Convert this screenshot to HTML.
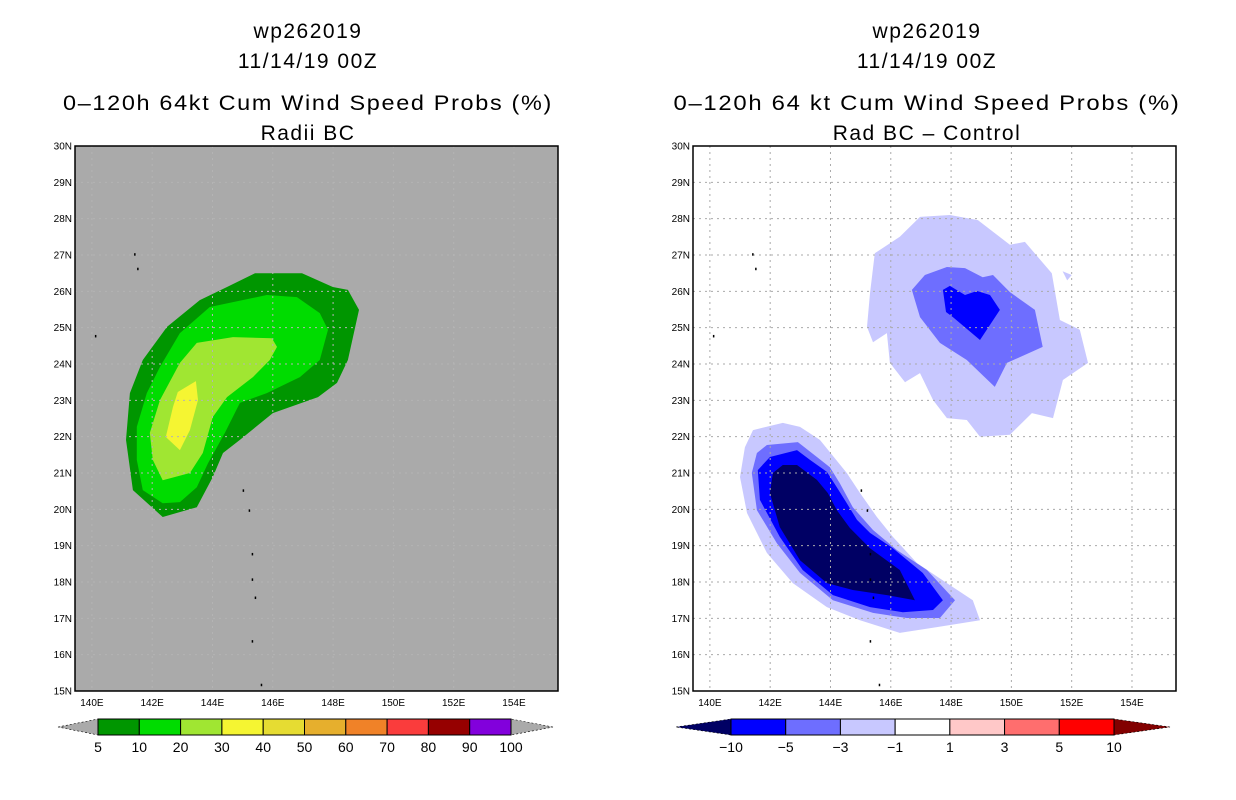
<!DOCTYPE html>
<html><head><meta charset="utf-8"><style>
body{margin:0;background:#fff;}
svg{display:block;font-family:"Liberation Sans","DejaVu Sans",sans-serif;}
</style></head><body>
<svg id="c" width="1236" height="800" viewBox="0 0 1236 800"></svg>
<script>
const NS="http://www.w3.org/2000/svg";
const latTicks=[15,16,17,18,19,20,21,22,23,24,25,26,27,28,29,30];
const lonTicks=[140,142,144,146,148,150,152,154];
const leftLevels=["5","10","20","30","40","50","60","70","80","90","100"];
const leftColors=["#009600","#00dc00","#a0e632","#f5f532","#e6dc32","#e6af2d","#f08228","#fa3c3c","#960000","#8200dc"];
const rightLevels=["-10","-5","-3","-1","1","3","5","10"];
const rightColors=["#0000ff","#6e6eff","#c8c8ff","#ffffff","#ffc8c8","#ff6e6e","#ff0000"];
const rightLowColor="#000064";
const rightHighColor="#820000";
const L5lon=[145.41,146.97,147.99,148.49,148.86,148.49,148.13,147.50,146.00,144.91,144.35,144.01,143.48,142.35,141.36,141.13,141.26,141.69,142.49,143.58,144.48];
const L5lat=[26.50,26.50,26.12,26.04,25.49,24.11,23.48,23.09,22.65,21.91,21.55,20.89,20.06,19.79,20.53,21.91,23.20,24.11,25.02,25.76,26.12];
const L10lon=[143.91,145.80,146.80,147.56,147.83,147.56,146.90,145.80,144.91,144.41,143.85,143.48,142.92,142.35,141.69,141.49,141.49,141.82,142.26,142.92];
const L10lat=[25.57,25.90,25.84,25.40,24.94,24.11,23.64,23.20,22.93,22.10,21.27,20.61,20.20,20.17,20.53,21.36,22.27,23.20,23.92,24.85];
const L20lon=[143.48,144.68,145.97,146.14,145.90,145.34,144.48,144.01,143.68,143.25,142.35,142.02,141.92,142.26,142.92];
const L20lat=[24.58,24.74,24.71,24.47,24.11,23.64,23.09,22.54,21.55,21.00,20.80,21.36,22.10,23.01,24.03];
const L30lon=[142.85,143.45,143.52,143.25,142.92,142.45,142.69];
const L30lat=[23.23,23.53,23.01,22.18,21.63,21.99,22.82];
const N1lon=[146.97,147.96,148.89,149.95,150.45,151.34,151.61,152.27,152.54,151.71,151.38,150.68,149.95,148.96,148.52,147.86,147.40,146.97,146.47,145.97,145.87,145.41,145.21,145.31,145.47,146.30];
const N1lat=[28.05,28.10,27.96,27.28,27.36,26.50,25.21,24.94,24.03,23.56,22.51,22.65,22.05,22.00,22.46,22.51,23.01,23.75,23.50,24.03,24.85,24.60,25.02,25.95,27.05,27.50];
const B1lon=[151.7,152.0,151.85];
const B1lat=[26.55,26.45,26.3];
const N3lon=[146.70,147.13,147.86,148.46,149.05,149.39,149.95,150.78,151.04,149.85,149.45,148.52,147.63,146.97,146.80];
const N3lat=[26.04,26.45,26.67,26.64,26.39,26.45,25.98,25.49,24.47,24.03,23.37,24.11,24.58,25.29,25.76];
const N5lon=[147.73,147.96,148.46,148.86,149.29,149.62,148.96,148.06,147.83];
const N5lat=[26.04,26.15,25.90,26.01,25.90,25.49,24.66,25.29,25.43];
const S1lon=[141.43,142.42,142.99,143.65,144.54,144.98,145.54,146.07,146.87,147.86,148.72,148.96,147.53,146.30,144.98,143.88,142.75,141.89,141.23,141.00,141.16];
const S1lat=[22.18,22.38,22.27,21.91,21.00,20.45,19.79,19.24,18.52,17.97,17.50,16.95,16.76,16.60,16.95,17.31,17.97,18.80,19.90,20.89,21.71];
const S3lon=[141.89,142.92,143.55,143.98,144.31,144.74,145.41,146.20,147.20,148.13,147.63,146.53,145.41,144.08,142.99,142.22,141.56,141.39,141.56];
const S3lat=[21.77,21.85,21.44,21.16,20.72,20.06,19.43,18.88,18.33,17.50,17.01,17.01,17.15,17.50,18.25,19.07,19.98,21.00,21.55];
const S5lon=[141.99,142.89,143.32,143.88,144.21,144.54,144.88,145.31,146.07,147.06,147.73,147.40,146.40,145.31,144.08,143.08,142.32,141.66,141.59];
const S5lat=[21.44,21.63,21.36,21.03,20.61,20.17,19.71,19.35,18.93,18.25,17.50,17.23,17.17,17.31,17.64,18.33,19.24,20.26,21.08];
const S10lon=[142.09,142.42,142.89,143.55,143.91,144.21,144.64,145.31,146.30,146.80,145.87,144.74,143.88,142.99,142.32,141.99];
const S10lat=[21.00,21.22,21.22,20.81,20.45,19.98,19.49,18.93,18.33,17.50,17.64,17.78,17.97,18.60,19.51,20.45];
const islandLon=[140.1,141.4,141.5,145.0,145.2,145.3,145.3,145.4,145.3,145.6];
const islandLat=[24.8,27.05,26.65,20.55,20.0,18.8,18.1,17.6,16.4,15.2];

const svg=document.getElementById('c');
function mk(tag,attrs,parent){const e=document.createElementNS(NS,tag);for(const k in attrs)e.setAttribute(k,attrs[k]);(parent||svg).appendChild(e);return e;}
function makeAxes(x0){
  const X0=x0,W=483,Y0=146,H=545;
  const lonMin=139.44,lonMax=155.46,latMin=15,latMax=30;
  return {x:l=>X0+(l-lonMin)/(lonMax-lonMin)*W,y:l=>Y0+H-(l-latMin)/(latMax-latMin)*H,X0,W,Y0,H};
}
function poly(ax,lons,lats,fill,name,g){
  const pts=lons.map((l,i)=>ax.x(l).toFixed(1)+","+ax.y(lats[i]).toFixed(1)).join(" ");
  const p=mk('polygon',{points:pts,fill:fill},g);
  
  
}
function panel(x0,bg,prefix,gridColor,polys){
  const ax=makeAxes(x0);
  const g=mk('g',{});
  
  
  mk('rect',{x:ax.X0,y:ax.Y0,width:ax.W,height:ax.H,fill:bg},g);
  polys.forEach(p=>poly(ax,p[0],p[1],p[2],p[3],g));
  lonTicks.forEach(l=>{const x=ax.x(l);mk('line',{x1:x,x2:x,y1:ax.Y0,y2:ax.Y0+ax.H,stroke:gridColor,'stroke-width':1,'stroke-dasharray':'2,4'},g);});
  latTicks.forEach(l=>{const y=ax.y(l);mk('line',{x1:ax.X0,x2:ax.X0+ax.W,y1:y,y2:y,stroke:gridColor,'stroke-width':1,'stroke-dasharray':'2,4'},g);});
  islandLon.forEach((l,i)=>{const d=mk('rect',{x:ax.x(l),y:ax.y(islandLat[i]),width:1.5,height:2.5,fill:'#000'},g);
    
    });
  mk('rect',{x:ax.X0,y:ax.Y0,width:ax.W,height:ax.H,fill:'none',stroke:'#000','stroke-width':1.5},g);
  latTicks.forEach(l=>{const t=mk('text',{x:ax.X0-3,y:ax.y(l)+3.5,'font-size':10,'text-anchor':'end'},g);t.textContent=l+'N';
    
    });
  lonTicks.forEach(l=>{const t=mk('text',{x:ax.x(l),y:ax.Y0+ax.H+15,'font-size':10,'text-anchor':'middle'},g);t.textContent=l+'E';
    
    });
}
panel(75,'#aaaaaa','left','#b4b4b4',[
  [L5lon,L5lat,leftColors[0],'contour-5pct'],[L10lon,L10lat,leftColors[1],'contour-10pct'],
  [L20lon,L20lat,leftColors[2],'contour-20pct'],[L30lon,L30lat,leftColors[3],'contour-30pct']]);
panel(693,'#ffffff','right','#aaaaaa',[
  [N1lon,N1lat,rightColors[2],'north-contour-minus1'],[B1lon,B1lat,rightColors[2],'small-contour-minus1'],
  [N3lon,N3lat,rightColors[1],'north-contour-minus3'],[N5lon,N5lat,rightColors[0],'north-contour-minus5'],
  [S1lon,S1lat,rightColors[2],'south-contour-minus1'],[S3lon,S3lat,rightColors[1],'south-contour-minus3'],
  [S5lon,S5lat,rightColors[0],'south-contour-minus5'],[S10lon,S10lat,rightLowColor,'south-contour-minus10']]);

function title(cx,lines){
  const ys=[38,68,110,140];
  lines.forEach((s,i)=>{const t=mk('text',{x:cx,y:ys[i],'font-size':21,'text-anchor':'middle','letter-spacing':'1.5'});t.textContent=s;
    
    
    if(i===2){t.setAttribute('textLength',cx<600?490:507);t.setAttribute('lengthAdjust','spacingAndGlyphs');}
  });
}
title(308,['wp262019','11/14/19 00Z','0\u2013120h 64kt Cum Wind Speed Probs (%)','Radii BC']);
title(927,['wp262019','11/14/19 00Z','0\u2013120h 64 kt Cum Wind Speed Probs (%)','Rad BC \u2013 Control']);

function colorbar(x0,x1,triL,triR,colors,labels,triColL,triColR,name){
  const g=mk('g',{});
  
  
  const y0=719,y1=735,ym=727,n=colors.length,bw=(x1-x0)/n;
  mk('polygon',{points:`${triL},${ym} ${x0},${y0} ${x0},${y1}`,fill:triColL,stroke:'#000','stroke-width':0.6,'stroke-dasharray':'2,2'},g);
  mk('polygon',{points:`${triR},${ym} ${x1},${y0} ${x1},${y1}`,fill:triColR,stroke:'#000','stroke-width':0.6,'stroke-dasharray':'2,2'},g);
  colors.forEach((c,i)=>{const r=mk('rect',{x:x0+i*bw,y:y0,width:bw,height:y1-y0,fill:c,stroke:'#000','stroke-width':1},g);
    
    });
  labels.forEach((s,i)=>{const t=mk('text',{x:x0+i*bw,y:752,'font-size':14,'text-anchor':'middle'},g);t.textContent=s.replace('-','\u2212');
    
    });
}
colorbar(98,511,58,553,leftColors,leftLevels,'#aaaaaa','#aaaaaa','left-colorbar');
colorbar(731,1114,676,1170,rightColors,rightLevels,rightLowColor,rightHighColor,'right-colorbar');
</script>
</body></html>
